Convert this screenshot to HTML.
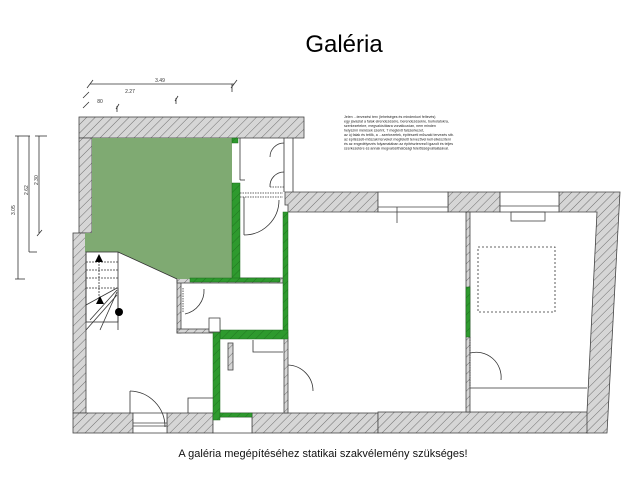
<!DOCTYPE html>
<html><head><meta charset="utf-8"><style>
html,body{margin:0;padding:0;background:#fff;width:640px;height:480px;overflow:hidden}
svg{display:block}
</style></head><body>
<svg width="640" height="480" viewBox="0 0 640 480" xmlns="http://www.w3.org/2000/svg" font-family="Liberation Sans, sans-serif">
<defs>
<pattern id="h" patternUnits="userSpaceOnUse" width="6" height="6" patternTransform="rotate(45)">
<rect width="6" height="6" fill="#d6d6d6"/><line x1="0" y1="0" x2="0" y2="6" stroke="#555" stroke-width="0.8"/>
</pattern>
<pattern id="g" patternUnits="userSpaceOnUse" width="6" height="6" patternTransform="rotate(45)">
<rect width="6" height="6" fill="#2e9a2e"/><line x1="0" y1="0" x2="0" y2="6" stroke="#1d6d1d" stroke-width="0.8"/>
</pattern>
</defs>
<text x="344" y="52" font-size="24" text-anchor="middle" fill="#000">Galéria</text>

<!-- dimension lines -->
<g stroke="#333" stroke-width="0.8" fill="none">
<line x1="90" y1="84" x2="234" y2="84"/><line x1="87" y1="88" x2="93" y2="80"/><line x1="231" y1="88" x2="237" y2="80"/>
<line x1="232" y1="84" x2="232" y2="92"/>
<line x1="83" y1="98" x2="89" y2="92"/><line x1="83" y1="108" x2="89" y2="102"/>
<line x1="116" y1="109" x2="119" y2="104"/><line x1="117" y1="106" x2="117" y2="112"/>
<line x1="175" y1="101" x2="178" y2="96"/><line x1="176" y1="98" x2="176" y2="104"/>
<line x1="18" y1="136" x2="18" y2="279"/><line x1="15" y1="136" x2="30" y2="136"/><line x1="15" y1="279" x2="25" y2="279"/>
<line x1="29" y1="136" x2="29" y2="252"/><line x1="29" y1="252" x2="37" y2="252"/>
<line x1="39" y1="136" x2="39" y2="233"/><line x1="35" y1="136" x2="47" y2="136"/><line x1="37" y1="236" x2="42" y2="230"/>
</g>
<g font-size="5" fill="#333">
<text x="160" y="82" text-anchor="middle">3.49</text>
<text x="130" y="93" text-anchor="middle">2.27</text>
<text x="100" y="103" text-anchor="middle">80</text>
<text transform="translate(15,215) rotate(-90)">3.05</text>
<text transform="translate(28,195) rotate(-90)">2.62</text>
<text transform="translate(38,185) rotate(-90)">2.30</text>
</g>

<!-- note text -->
<g font-size="3.6" fill="#222">
<text x="344" y="118">Jelen ...tervezési terv (lehetséges és mindenkori feltevés)</text>
<text x="344" y="122.5">egy javaslat a falak elrendezésére, berendezésekre, burkolatokra,</text>
<text x="344" y="127">szerkezetekre, megvalósításra vonatkozóan, nem minden</text>
<text x="344" y="131.5">helyszíni mérések szerint, 7 meglévő falszerkezet,</text>
<text x="344" y="136">az új falak és tetők, a ...szerkezetek, építészeti műszaki tervezés stb.</text>
<text x="344" y="140.5">az építészeti-műszaki terveket megfelelő tervezővel kell elkészíteni</text>
<text x="344" y="145">és az engedélyezés folyamatában az építésztervező igazolt és teljes</text>
<text x="344" y="149.5">szerkezetére és annak megvalósíthatósági felelősségvállalásával.</text>
</g>

<!-- walls -->
<g fill="url(#h)" stroke="#444" stroke-width="0.8">
<rect x="79" y="117" width="225" height="21"/>
<rect x="79" y="138" width="13" height="95"/>
<rect x="73" y="233" width="13" height="180"/>
<rect x="73" y="413" width="60" height="20"/>
<rect x="167" y="413" width="46" height="20"/>
<rect x="252" y="413" width="126" height="20"/>
<polygon points="285,192 378,192 378,212 288,212 288,205 285,205"/>
<rect x="448" y="192" width="52" height="20"/>
<rect x="378" y="412" width="210" height="21"/>
<polygon points="559,192 620,192 607,433 587,433 587,412 597,212 559,212"/>
<rect x="466" y="212" width="4" height="200"/>
<rect x="284" y="337" width="4" height="76"/>
<rect x="177" y="279" width="4" height="54"/>
<rect x="177" y="329" width="36" height="4"/>
<rect x="177" y="278" width="106" height="5"/>
<rect x="228" y="343" width="5" height="27"/>
</g>
<!-- windows -->
<g fill="#fff" stroke="#444" stroke-width="0.8">
<rect x="378" y="192" width="70" height="20"/>
<rect x="500" y="192" width="59" height="20"/>
<rect x="133" y="413" width="34" height="20"/>
<rect x="213" y="413" width="39" height="20"/>
</g>
<g stroke="#444" stroke-width="0.8" fill="none">
<line x1="378" y1="207" x2="448" y2="207"/><line x1="397" y1="207" x2="397" y2="223"/>
<line x1="500" y1="206" x2="559" y2="206"/><rect x="511" y="212" width="34" height="9"/>
<line x1="133" y1="426" x2="167" y2="426"/><line x1="133" y1="423" x2="167" y2="423"/>
<line x1="213" y1="417" x2="252" y2="417"/>
</g>

<!-- gallery -->
<polygon points="92,138 232,138 232,279 177,279 118,252 85,252 85,233 92,233" fill="#7faa72"/>
<line x1="118" y1="252" x2="177" y2="279" stroke="#333" stroke-width="0.8"/>

<!-- green walls -->
<g fill="url(#g)" stroke="#1d6d1d" stroke-width="0.5">
<rect x="232" y="183" width="8" height="96"/>
<rect x="232" y="138" width="6" height="5"/>
<rect x="283" y="212" width="5" height="125"/>
<rect x="220" y="330" width="68" height="9"/>
<rect x="213" y="320" width="7" height="100"/>
<rect x="190" y="278" width="90" height="4"/>
<rect x="466" y="287" width="4" height="50"/>
<rect x="220" y="413" width="32" height="4"/>
</g>

<!-- closet and doors -->
<g stroke="#333" stroke-width="0.8" fill="none">
<line x1="240" y1="138" x2="240" y2="180"/>
<line x1="284" y1="138" x2="284" y2="192"/>
<line x1="293" y1="138" x2="293" y2="192"/>
<line x1="240" y1="180" x2="245" y2="180"/>
<path d="M284 143 A14 14 0 0 0 270 157"/>
<path d="M284 172 A14 14 0 0 0 270 187"/>
<line x1="284" y1="187" x2="270" y2="187" stroke-dasharray="1.5 1"/>
<line x1="240" y1="193" x2="283" y2="193" stroke-dasharray="1.5 1"/>
<line x1="240" y1="197" x2="283" y2="197" stroke-dasharray="1.5 1"/>
<path d="M244 235 A35 35 0 0 0 279 200"/><line x1="244" y1="197" x2="244" y2="235"/>
<line x1="183" y1="288" x2="183" y2="312" stroke-dasharray="1.5 1"/>
<path d="M185 314 A24 24 0 0 0 204 289"/>
<path d="M288 365 A26 26 0 0 1 313 391"/>
<path d="M470 353 A25 25 0 0 1 501 380"/>
<line x1="470" y1="337" x2="470" y2="386" stroke-dasharray="1.5 1"/>
<path d="M130 391 A36 36 0 0 1 165 427"/><line x1="130" y1="391" x2="130" y2="413"/>
<polyline points="253,340 253,352 283,352"/>
<polyline points="188,413 188,398 213,398"/>
<line x1="470" y1="388" x2="587" y2="388"/>
<rect x="478" y="247" width="77" height="65" stroke-dasharray="2 2"/>
<!-- stairs -->
<rect x="86" y="252" width="32" height="70"/>
<line x1="86" y1="262" x2="118" y2="262" stroke-dasharray="2 1"/>
<line x1="86" y1="270" x2="118" y2="270" stroke-dasharray="2 1"/>
<line x1="86" y1="278" x2="118" y2="278" stroke-dasharray="2 1"/>
<line x1="86" y1="288" x2="118" y2="288" stroke-dasharray="2 1"/>
<line x1="99" y1="258" x2="99" y2="300" stroke-dasharray="2 1"/>
<line x1="117" y1="288" x2="86" y2="305"/>
<line x1="117" y1="290" x2="90" y2="320"/>
<line x1="117" y1="292" x2="100" y2="330"/>
<line x1="117" y1="295" x2="86" y2="330"/>
<line x1="118" y1="288" x2="118" y2="330"/>
</g>
<polygon points="99,254 95,262 103,262" fill="#000"/>
<polygon points="100,296 96,304 104,304" fill="#000"/>
<circle cx="119" cy="312" r="4" fill="#000"/>
<rect x="209" y="318" width="11" height="14" fill="#fff" stroke="#444" stroke-width="0.8"/>

<text x="323" y="457" font-size="11" text-anchor="middle" fill="#111">A galéria megépítéséhez statikai szakvélemény szükséges!</text>
</svg>
</body></html>
